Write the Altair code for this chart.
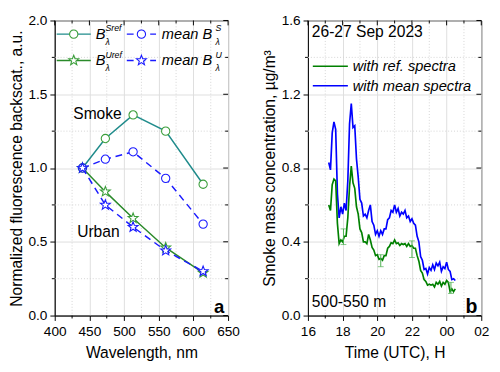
import altair as alt
import pandas as pd

# ---------------- Panel a data ----------------
wavelength = [440, 473, 513, 560, 614]
b_sref = [1.00, 1.20, 1.36, 1.25, 0.89]
b_mean_s = [1.00, 1.06, 1.11, 0.93, 0.62]
b_uref = [1.00, 0.84, 0.66, 0.46, 0.29]
b_mean_u = [1.00, 0.75, 0.60, 0.44, 0.30]

wl_major = [400, 450, 500, 550, 600, 650]
wl_minor = [425, 475, 525, 575, 625]
norm_major = [0.0, 0.5, 1.0, 1.5, 2.0]
norm_minor = [0.25, 0.75, 1.25, 1.75]

# ---------------- Panel b data ----------------
time_h = [17.2, 17.3, 17.4, 17.5, 17.6, 17.7, 17.8, 17.9, 18.0, 18.1,
          18.2, 18.3, 18.4, 18.5, 18.6, 18.7, 18.8, 18.9, 19.0, 19.1,
          19.2, 19.3, 19.4, 19.5, 19.6, 19.7, 19.8, 19.9, 20.0, 20.1,
          20.2, 20.3, 20.4, 20.5, 20.6, 20.7, 20.8, 20.9, 21.0, 21.1,
          21.2, 21.3, 21.4, 21.5, 21.6, 21.7, 21.8, 21.9, 22.0, 22.1,
          22.2, 22.3, 22.4, 22.5, 22.6, 22.7, 22.8, 22.9, 23.0, 23.1,
          23.2, 23.3, 23.4, 23.5, 23.6, 23.7, 23.8, 23.9, 24.0, 24.1,
          24.2, 24.3, 24.4, 24.5]
mass_mean = [0.83, 0.79, 0.99, 1.05, 1.01, 0.66, 0.53, 0.59, 0.55, 0.61,
             0.57, 0.73, 1.04, 1.15, 1.02, 1.03, 0.85, 0.75, 0.63, 0.61,
             0.54, 0.55, 0.53, 0.57, 0.60, 0.51, 0.49, 0.44, 0.46, 0.43,
             0.46, 0.44, 0.47, 0.47, 0.52, 0.53, 0.57, 0.56, 0.60, 0.56,
             0.58, 0.54, 0.56, 0.55, 0.57, 0.53, 0.54, 0.51, 0.525, 0.50,
             0.49, 0.43, 0.40, 0.32, 0.30, 0.25, 0.255, 0.225, 0.26, 0.245,
             0.275, 0.25, 0.285, 0.27, 0.29, 0.24, 0.265, 0.255, 0.29, 0.25,
             0.24, 0.195, 0.20, 0.19]
mass_ref = [0.60, 0.57, 0.71, 0.74, 0.73, 0.50, 0.39, 0.41, 0.40, 0.43,
            0.43, 0.53, 0.70, 0.81, 0.72, 0.69, 0.59, 0.55, 0.47, 0.45,
            0.40, 0.40, 0.39, 0.44, 0.41, 0.37, 0.355, 0.325, 0.33, 0.305,
            0.31, 0.30, 0.325, 0.325, 0.365, 0.375, 0.395, 0.39, 0.41, 0.39,
            0.395, 0.38, 0.39, 0.385, 0.39, 0.375, 0.39, 0.375, 0.38, 0.365,
            0.365, 0.325, 0.295, 0.245, 0.23, 0.195, 0.185, 0.165, 0.17, 0.165,
            0.17, 0.155, 0.18, 0.17, 0.185, 0.16, 0.18, 0.17, 0.19, 0.18,
            0.13, 0.145, 0.13, 0.145]
err_time = [18.05, 20.2, 22.0, 24.25]
err_lo = [0.385, 0.265, 0.315, 0.12]
err_hi = [0.47, 0.33, 0.405, 0.18]

hour_major = [16, 18, 20, 22, 24, 26]
hour_minor = [17, 19, 21, 23, 25]
mass_major = [0.0, 0.4, 0.8, 1.2, 1.6]
mass_minor = [0.2, 0.6, 1.0, 1.4]

W, H = 178, 303
FONT = "Liberation Sans"
TEAL = "#1f8b8b"
GREEN_M = "#3a9e3a"
GREEN_L = "#2a8a2a"
BLUE = "#1a1aff"
STAR = ("M0,-1L0.247,-0.34L0.951,-0.309L0.399,0.13L0.588,0.809L0,0.42"
        "L-0.588,0.809L-0.399,0.13L-0.951,-0.309L-0.247,-0.34Z")

one = pd.DataFrame({"k": [0]})


def frame_layers(X, Y, xmaj, xmin, ymaj, ymin):
    dxmin = pd.DataFrame({"v": xmin})
    dxmaj = pd.DataFrame({"v": xmaj})
    dymin = pd.DataFrame({"v": ymin})
    dymaj = pd.DataFrame({"v": ymaj})
    grid_kw = dict(color="#d4d4d4", strokeDash=[1, 2], strokeWidth=1)
    return [
        alt.Chart(dxmin).mark_rule(**grid_kw).encode(x=X("v")),
        alt.Chart(dymin).mark_rule(**grid_kw).encode(y=Y("v")),
        alt.Chart(dxmaj).mark_rule(color="black").encode(x=X("v"), y=alt.value(0), y2=alt.value(5)),
        alt.Chart(dxmin).mark_rule(color="black").encode(x=X("v"), y=alt.value(0), y2=alt.value(3)),
        alt.Chart(dxmin).mark_rule(color="black").encode(x=X("v"), y=alt.value(H), y2=alt.value(H + 3)),
        alt.Chart(dymaj).mark_rule(color="black").encode(y=Y("v"), x=alt.value(W), x2=alt.value(W - 5)),
        alt.Chart(dymin).mark_rule(color="black").encode(y=Y("v"), x=alt.value(W), x2=alt.value(W - 3)),
        alt.Chart(dymin).mark_rule(color="black").encode(y=Y("v"), x=alt.value(0), x2=alt.value(-3)),
    ]


def txt(s, x, y, size=16, style="normal", weight="normal", align="left", baseline="middle"):
    return alt.Chart(one).mark_text(
        text=s, font=FONT, fontSize=size, fontStyle=style, fontWeight=weight,
        align=align, baseline=baseline, color="black"
    ).encode(x=alt.value(x), y=alt.value(y))


# ---------------- Panel a ----------------
xs_a = alt.Scale(domain=[400, 650], nice=False, zero=False)
ys_a = alt.Scale(domain=[0, 2.0], nice=False, zero=False)
ax_a_x = alt.Axis(values=wl_major, format="d", title="Wavelength, nm", tickSize=5,
                  labelPadding=4, titlePadding=7, grid=True, gridColor="#dedede",
                  labelFlush=False, labelOverlap=False)
ax_a_y = alt.Axis(values=norm_major, format=".1f", title="Normalized fluorescence backscat., a.u.",
                  tickSize=5, labelPadding=3, titlePadding=4, grid=True, gridColor="#dedede",
                  labelFlush=False, labelOverlap=False)


def XA(f):
    return alt.X(f"{f}:Q", scale=xs_a, axis=ax_a_x)


def YA(f):
    return alt.Y(f"{f}:Q", scale=ys_a, axis=ax_a_y)


def series_a(vals, line_color, mark_color, shape, dashed):
    df = pd.DataFrame({"wl": wavelength, "val": vals})
    line_kw = dict(color=line_color, strokeWidth=1.5)
    if dashed:
        line_kw["strokeDash"] = [7, 5]
    line = alt.Chart(df).mark_line(**line_kw).encode(x=XA("wl"), y=YA("val"))
    size = 72 if shape == "circle" else 115
    pts = alt.Chart(df).mark_point(shape=shape, size=size, filled=True, fill="white",
                                   stroke=mark_color, strokeWidth=1.1, opacity=1).encode(
        x=XA("wl"), y=YA("val"))
    return [line, pts]


def legend_entry(x0, x1, y, line_color, mark_color, shape, dashed):
    kw = dict(color=line_color, strokeWidth=1.5)
    if dashed:
        kw["strokeDash"] = [7, 5]
    size = 72 if shape == "circle" else 115
    return [
        alt.Chart(one).mark_rule(**kw).encode(x=alt.value(x0), x2=alt.value(x1), y=alt.value(y)),
        alt.Chart(one).mark_point(shape=shape, size=size, filled=True, fill="white",
                                  stroke=mark_color, strokeWidth=1.1, opacity=1).encode(
            x=alt.value((x0 + x1) / 2), y=alt.value(y)),
    ]


layers_a = frame_layers(XA, YA, wl_major, wl_minor, norm_major, norm_minor)
layers_a += series_a(b_sref, TEAL, GREEN_M, "circle", False)
layers_a += series_a(b_mean_s, BLUE, BLUE, "circle", True)
layers_a += series_a(b_uref, GREEN_L, GREEN_M, STAR, False)
layers_a += series_a(b_mean_u, BLUE, BLUE, STAR, True)
# legend
layers_a += legend_entry(2, 37, 14, TEAL, GREEN_M, "circle", False)
layers_a += legend_entry(74, 104, 14, BLUE, BLUE, "circle", True)
layers_a += legend_entry(2, 37, 41, GREEN_L, GREEN_M, STAR, False)
layers_a += legend_entry(74, 104, 41, BLUE, BLUE, STAR, True)
layers_a += [
    txt("B", 42, 19, 15, "italic", baseline="alphabetic"),
    txt("Sref", 52, 11, 9, "italic", baseline="alphabetic"),
    txt("λ", 52, 25, 9, "italic", baseline="alphabetic"),
    txt("mean B", 110, 19, 15, "italic", baseline="alphabetic"),
    txt("S", 165, 11, 9, "italic", baseline="alphabetic"),
    txt("λ", 165, 25, 9, "italic", baseline="alphabetic"),
    txt("B", 42, 46, 15, "italic", baseline="alphabetic"),
    txt("Uref", 52, 38, 9, "italic", baseline="alphabetic"),
    txt("λ", 52, 52, 9, "italic", baseline="alphabetic"),
    txt("mean B", 110, 46, 15, "italic", baseline="alphabetic"),
    txt("U", 165, 38, 9, "italic", baseline="alphabetic"),
    txt("λ", 165, 52, 9, "italic", baseline="alphabetic"),
    txt("Smoke", 19, 96, 16),
    txt("Urban", 23, 217, 16),
    txt("a", 174, 300, 19, weight="bold", align="right", baseline="alphabetic"),
]
panel_a = alt.layer(*layers_a).properties(width=W, height=H)

# ---------------- Panel b ----------------
xs_b = alt.Scale(domain=[16, 26], nice=False, zero=False)
ys_b = alt.Scale(domain=[0, 1.6], nice=False, zero=False)
ax_b_x = alt.Axis(values=hour_major, title="Time (UTC), H", tickSize=5, labelPadding=4,
                  titlePadding=7, grid=True, gridColor="#dedede",
                  labelFlush=False, labelOverlap=False,
                  labelExpr="datum.value >= 24 ? '0' + (datum.value - 24) : '' + datum.value")
ax_b_y = alt.Axis(values=mass_major, format=".1f", title="Smoke mass concentration, µg/m³",
                  tickSize=5, labelPadding=3, titlePadding=4, grid=True, gridColor="#dedede",
                  labelFlush=False, labelOverlap=False)


def XB(f):
    return alt.X(f"{f}:Q", scale=xs_b, axis=ax_b_x)


def YB(f):
    return alt.Y(f"{f}:Q", scale=ys_b, axis=ax_b_y)


df_b = pd.DataFrame({"t": time_h, "ref": mass_ref, "mean": mass_mean})
df_err = pd.DataFrame({"t": err_time, "lo": err_lo, "hi": err_hi})

layers_b = frame_layers(XB, YB, hour_major, hour_minor, mass_major, mass_minor)
layers_b += [
    alt.Chart(df_b).mark_line(color="#0000ff", strokeWidth=1.7).encode(x=XB("t"), y=YB("mean")),
    alt.Chart(df_b).mark_line(color="#008000", strokeWidth=1.7).encode(x=XB("t"), y=YB("ref")),
    alt.Chart(df_err).mark_rule(color="#4caf50").encode(x=XB("t"), y=YB("lo"), y2="hi:Q"),
    alt.Chart(df_err).mark_tick(color="#4caf50", orient="horizontal", size=6, thickness=1).encode(
        x=XB("t"), y=YB("lo")),
    alt.Chart(df_err).mark_tick(color="#4caf50", orient="horizontal", size=6, thickness=1).encode(
        x=XB("t"), y=YB("hi")),
    alt.Chart(one).mark_rule(color="#008000", strokeWidth=1.6).encode(
        x=alt.value(5), x2=alt.value(41), y=alt.value(47)),
    alt.Chart(one).mark_rule(color="#0000ff", strokeWidth=1.6).encode(
        x=alt.value(5), x2=alt.value(41), y=alt.value(67)),
    txt("with ref. spectra", 46, 47, 15, "italic"),
    txt("with mean spectra", 46, 67, 15, "italic"),
    txt("26-27 Sep 2023", 4, 12, 16),
    txt("500-550 m", 4, 289, 16),
    txt("b", 174, 300, 20, weight="bold", align="right", baseline="alphabetic"),
]
panel_b = alt.layer(*layers_b).properties(width=W, height=H)

chart = alt.hconcat(panel_a, panel_b, spacing=21).properties(
    padding={"left": 0, "top": 0, "right": 2, "bottom": 2}
).configure_axis(
    labelFont=FONT, titleFont=FONT, labelFontSize=14, titleFontSize=16,
    titleFontWeight="normal", labelColor="black", titleColor="black",
    tickColor="black", domainColor="black", tickWidth=1, domainWidth=1
).configure_view(stroke="black", strokeWidth=1)

chart.save("out.html", embed_options={"renderer": "svg", "actions": False})
